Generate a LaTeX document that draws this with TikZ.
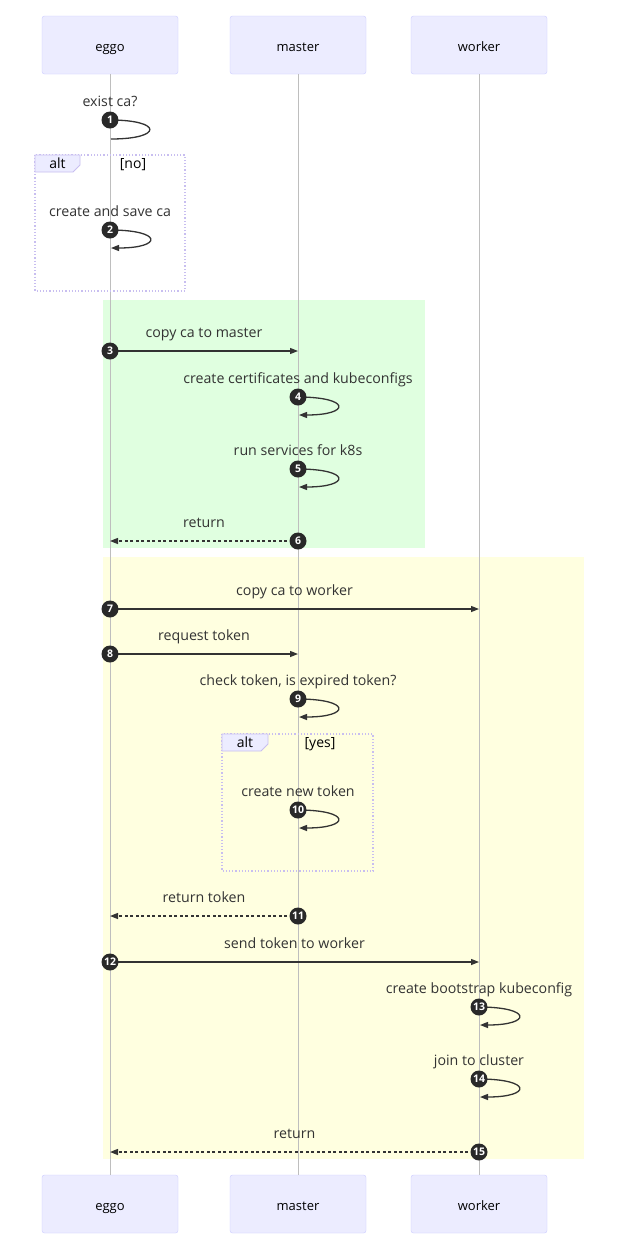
\documentclass[tikz,border=0pt]{standalone}
\usepackage{fontspec}
\setmainfont{Open Sans}
\usetikzlibrary{arrows.meta,calc}
\definecolor{actfill}{RGB}{236,236,255}
\definecolor{actdraw}{RGB}{204,204,255}
\definecolor{altdraw}{RGB}{200,190,240}
\definecolor{life}{RGB}{190,190,190}
\definecolor{ink}{RGB}{51,51,51}
\definecolor{greenbg}{RGB}{224,255,224}
\definecolor{yellowbg}{RGB}{255,255,224}
\tikzset{
  actor/.style={draw=actdraw,fill=actfill,rounded corners=2.5pt,minimum width=136pt,minimum height=58pt,inner sep=0pt,font=\fontsize{13}{15}\selectfont,text=black,text height=14.5pt,text depth=2.5pt},
  lifeline/.style={draw=life,line width=0.8pt},
  msg/.style={draw=ink,line width=1.3pt,-{Triangle[length=8pt,width=6pt]}},
  plainmsg/.style={draw=ink,line width=1.3pt},
  dmsg/.style={msg,dash pattern=on 3pt off 2.5pt},
  msglabel/.style={font=\fontsize{14.2}{16}\selectfont,text=ink,inner sep=0pt,text height=10.5pt,text depth=3pt},
  num/.style={circle,fill=ink!80!black,text=white,inner sep=0pt,minimum size=17pt,font=\bfseries\fontsize{10.5}{10.5}\selectfont},
  altbox/.style={draw=altdraw,line width=1.2pt,dotted},
  alttab/.style={fill=actfill,draw=altdraw,line width=0.8pt},
  alttext/.style={font=\fontsize{14}{16}\selectfont,text=black,inner sep=0pt,text height=10.5pt,text depth=3pt},
}
\newcommand\selfmsg[5]{% name, x, y, number, label
  \node[msglabel] (l#1) at (#2,#3-17.5) {#5};
  \coordinate (c#1) at (#2,#3);
  \coordinate (e#1) at (#2+1,#3+18);
  \draw[msg] (c#1) .. controls ($(c#1)+(53,0)$) and ($(e#1)+(52,0)$) .. (e#1);
  \node[num] (n#1) at (c#1) {#4};
}
\newcommand\selfmsgnoarrow[5]{%
  \node[msglabel] (l#1) at (#2,#3-17.5) {#5};
  \coordinate (c#1) at (#2,#3);
  \coordinate (e#1) at (#2+1,#3+19);
  \draw[plainmsg] (c#1) .. controls ($(c#1)+(53,0)$) and ($(e#1)+(52,0)$) .. (e#1);
  \node[num] (n#1) at (c#1) {#4};
}
\newcommand\hmsg[7]{% name, x1, x2, y, number, label, style
  \node[msglabel] (l#1) at ({(#2+#3)/2},#4-17.5) {#6};
  \coordinate (c#1) at (#2,#4);
  \coordinate (e#1) at (#3,#4);
  \draw[#7] (c#1) -- (e#1);
  \node[num] (n#1) at (c#1) {#5};
}
\begin{document}
\begin{tikzpicture}[x=1pt,y=-1pt]
\useasboundingbox[fill=white] (0,0) rectangle (640,1251);
% background regions
\fill[greenbg] (103,300) rectangle (425,548);
\fill[yellowbg] (103,557) rectangle (584,1159);
% actors
\node[actor] (eggoT) at (110,45) {eggo};
\node[actor] (masterT) at (298,45) {master};
\node[actor] (workerT) at (479,45) {worker};
\node[actor] (eggoB) at (110,1204) {eggo};
\node[actor] (masterB) at (298,1204) {master};
\node[actor] (workerB) at (479,1204) {worker};
\draw[lifeline] (eggoT.south) -- (eggoB.north);
\draw[lifeline] (masterT.south) -- (masterB.north);
\draw[lifeline] (workerT.south) -- (workerB.north);
% alt 1
\draw[altbox] (35,155) rectangle (185,291);
\draw[alttab] (35,155) -- (80,155) -- (80,165) -- (73,172) -- (35,172) -- cycle;
\node[alttext] (alt1) at (57.5,164.5) {alt};
\node[alttext] (cond1) at (133,164.5) {[no]};
% alt 2
\draw[altbox] (222,734) rectangle (373,871);
\draw[alttab] (222,734) -- (268,734) -- (268,744) -- (261,751) -- (222,751) -- cycle;
\node[alttext] (alt2) at (245,743.5) {alt};
\node[alttext] (cond2) at (320,743.5) {[yes]};
% messages
\selfmsgnoarrow{1}{110}{120}{1}{exist ca?}
\selfmsg{2}{110}{230}{2}{create and save ca}
\hmsg{3}{110}{298}{351}{3}{copy ca to master}{msg}
\selfmsg{4}{298}{397}{4}{create certificates and kubeconfigs}
\selfmsg{5}{298}{469}{5}{run services for k8s}
\hmsg{6}{298}{110}{541}{6}{return}{dmsg}
\hmsg{7}{110}{479}{609}{7}{copy ca to worker}{msg}
\hmsg{8}{110}{298}{654}{8}{request token}{msg}
\selfmsg{9}{298}{699}{9}{check token, is expired token?}
\selfmsg{10}{298}{810}{10}{create new token}
\hmsg{11}{298}{110}{916}{11}{return token}{dmsg}
\hmsg{12}{110}{479}{962}{12}{send token to worker}{msg}
\selfmsg{13}{479}{1007}{13}{create bootstrap kubeconfig}
\selfmsg{14}{479}{1079}{14}{join to cluster}
\hmsg{15}{479}{110}{1152}{15}{return}{dmsg}
\end{tikzpicture}
\end{document}
